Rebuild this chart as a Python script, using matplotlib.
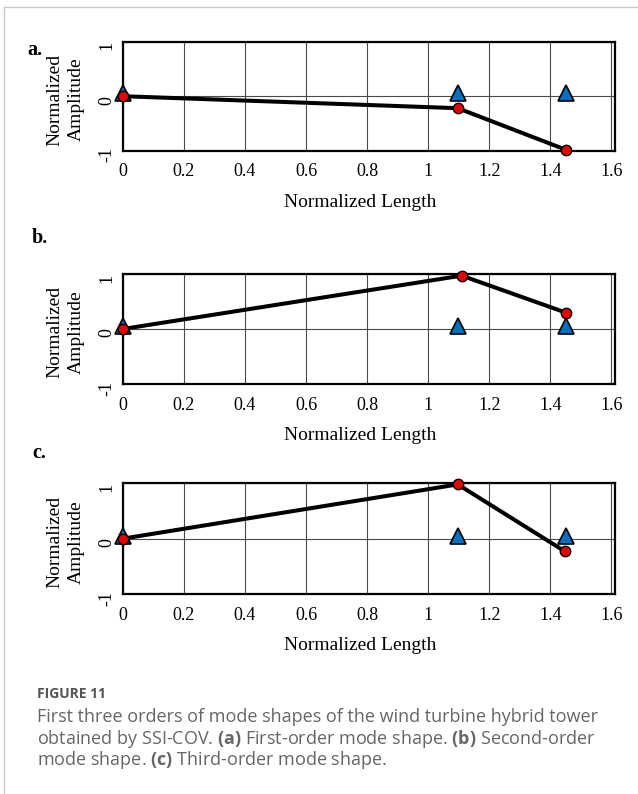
import matplotlib
matplotlib.use("Agg")
import matplotlib.pyplot as plt
from matplotlib.lines import Line2D
from matplotlib.transforms import ScaledTranslation

plt.rcParams["font.family"] = ["Liberation Serif", "DejaVu Serif"]
plt.rcParams["axes.unicode_minus"] = False
plt.rcParams["mathtext.fontset"] = "custom"
plt.rcParams["mathtext.rm"] = "Open Sans"
plt.rcParams["mathtext.bf"] = "Open Sans:bold"

# sensor positions (normalized length)
sensor_x = [0.0, 1.097, 1.45]
sensor_y = [0.05, 0.05, 0.05]

# identified mode shapes (SSI-COV)
mode1_x = [0.0, 1.097, 1.45]
mode1_y = [0.0, -0.22, -0.98]
mode2_x = [0.0, 1.11, 1.45]
mode2_y = [0.0, 0.97, 0.30]
mode3_x = [0.0, 1.097, 1.448]
mode3_y = [0.0, 0.98, -0.23]

modes = [(mode1_x, mode1_y), (mode2_x, mode2_y), (mode3_x, mode3_y)]
panel_tags = ["a.", "b.", "c."]
x_ticks = [0, 0.2, 0.4, 0.6, 0.8, 1.0, 1.2, 1.4, 1.6]
x_labels = ["0", "0.2", "0.4", "0.6", "0.8", "1", "1.2", "1.4", "1.6"]
y_ticks = [-1, 0, 1]

W, H = 638, 794
fig = plt.figure(figsize=(W / 100, H / 100), dpi=100)

# (top, bottom) of each plot frame in pixels
frames = [(41.7, 150.7), (274, 384), (483.3, 594)]
tag_pos = [(27, 55), (32, 243), (32, 458)]
left, right = 122.8, 615

for (mx, my), (top, bot), tag, (tx, ty) in zip(modes, frames, panel_tags, tag_pos):
    ax = fig.add_axes([left / W, 1 - bot / H, (right - left) / W, (bot - top) / H])
    ax.set_xlim(0, 1.612)
    ax.set_ylim(-1, 1)
    ax.set_xticks(x_ticks)
    ax.set_xticklabels(x_labels)
    ax.set_yticks(y_ticks)
    ax.set_yticklabels([str(v) for v in y_ticks])
    ax.grid(True, color="#4a4a4a", linewidth=0.8)
    ax.set_axisbelow(True)
    for sp in ax.spines.values():
        sp.set_linewidth(1.6)
        sp.set_color("black")
    ax.tick_params(length=0, labelsize=13)
    ax.tick_params(axis="x", pad=9)
    ax.tick_params(axis="y", pad=5, labelrotation=90)
    off = ScaledTranslation(0, -4 / 100, fig.dpi_scale_trans)
    for lbl in ax.get_yticklabels():
        lbl.set_va("center")
        lbl.set_transform(lbl.get_transform() + off)

    ax.plot(sensor_x, sensor_y, linestyle="none", marker="^", markersize=12,
            markerfacecolor="#0070c0", markeredgecolor="black", markeredgewidth=1.2,
            clip_on=False, zorder=3)
    ax.plot(mx, my, color="black", linewidth=2.9, marker="o", markersize=7.5,
            markerfacecolor="#e60000", markeredgecolor="black", markeredgewidth=1.0,
            clip_on=False, zorder=4)

    ax.set_xlabel("Normalized Length", fontsize=14, labelpad=10)
    ax.xaxis.label.set_x(0.5 - 9 / (right - left))
    ax.set_ylabel("Normalized\nAmplitude", fontsize=14, va="center", linespacing=1.38)
    ax.yaxis.set_label_coords(-57 / (right - left), 0.47)

    fig.text(tx / W, 1 - ty / H, tag, fontsize=14.5, fontweight="bold", va="baseline")

# page frame lines
fig.add_artist(Line2D([4 / W, 1], [1 - 7 / H, 1 - 7 / H], color="#c8c8c8", linewidth=1))
fig.add_artist(Line2D([4 / W, 4 / W], [0, 1 - 7 / H], color="#c8c8c8", linewidth=1))

# caption
cap_color = "#666666"
fig.text(37 / W, 1 - 694 / H, "FIGURE 11", fontsize=10, fontweight="bold",
         family="Open Sans", color="#555555", va="center")
caption_lines = [
    "First three orders of mode shapes of the wind turbine hybrid tower",
    r"obtained by SSI-COV. $\mathbf{(a)}$ First-order mode shape. $\mathbf{(b)}$ Second-order",
    r"mode shape. $\mathbf{(c)}$ Third-order mode shape.",
]
for i, line in enumerate(caption_lines):
    fig.text(37 / W, 1 - (717 + 21.5 * i) / H, line, fontsize=13, family="Open Sans",
             color=cap_color, va="center")

fig.savefig("out.png", dpi=100)
